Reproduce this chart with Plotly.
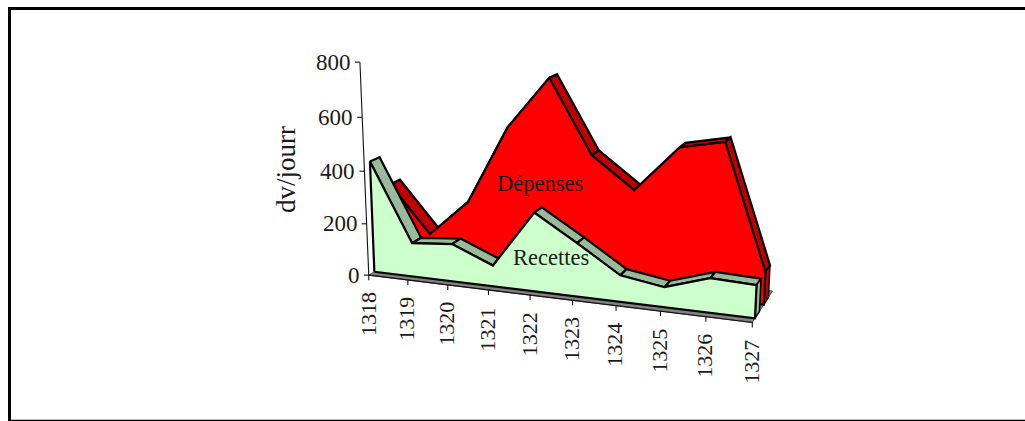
import numpy as np
import plotly.graph_objects as go

YEARS = ["1318", "1319", "1320", "1321", "1322", "1323", "1324", "1325", "1326", "1327"]
RECETTES = [427, 130, 144, 80, 296, 200, 99, 74, 126, 120]
DEPENSES = [304, 123, 267, 563, 755, 487, 372, 541, 574, 121]
Y_TICKS = [0, 200, 400, 600, 800]

# Perspective projection of the 3-D chart box: (category, value/100, depth) -> page pixel
PROJ = np.array([
    [34.87755, -3.211746, 62.10915, 368.7734],
    [1.948109, -26.98882, -8.251153, 275.1479],
    [-0.01028385, -0.005850458, 0.05924156, 1.0],
])
DEPTH = dict(floor_back=1.12, rec_front=.14, rec_back=.38, dep_front=.62, dep_back=.88)

C_REC, C_REC_TOP = "#CCFFCC", "#99BB99"
C_DEP, C_DEP_TOP = "#FF0000", "#C00000"
C_FLOOR = "#808080"
FONT = "Liberation Serif"
C_TEXT = "#1a1a1a"


def proj(t, value, depth):
    p = PROJ @ np.array([t, value / 100.0, depth, 1.0])
    return p[0] / p[2], p[1] / p[2]


fig = go.Figure()


def poly(points, fill, width=2.2, color="black"):
    xs, ys = zip(*[proj(*q) for q in points + points[:1]])
    fig.add_trace(go.Scatter(x=xs, y=ys, mode="lines", fill="toself", fillcolor=fill,
                             line=dict(color=color, width=width, simplify=False),
                             hoverinfo="skip", showlegend=False))


def segment(a, b, width=1.1):
    fig.add_trace(go.Scatter(x=[a[0], b[0]], y=[a[1], b[1]], mode="lines",
                             line=dict(color="#111111", width=width),
                             hoverinfo="skip", showlegend=False))


def area(values, front, back, face, top, side_width):
    n = len(values)
    for t in range(n - 1):
        poly([(t, values[t], front), (t + 1, values[t + 1], front),
              (t + 1, values[t + 1], back), (t, values[t], back)], top)
    poly([(n - 1, 0, front), (n - 1, values[-1], front),
          (n - 1, values[-1], back), (n - 1, 0, back)], top, width=side_width)
    poly([(0, 0, front)] + [(t, values[t], front) for t in range(n)] + [(n - 1, 0, front)], face)


last = len(YEARS) - 1
poly([(0, 0, 0), (last, 0, 0), (last, 0, DEPTH["floor_back"]), (0, 0, DEPTH["floor_back"])],
     C_FLOOR, width=0.8, color="#333333")
area(DEPENSES, DEPTH["dep_front"], DEPTH["dep_back"], C_DEP, C_DEP_TOP, 1.4)
area(RECETTES, DEPTH["rec_front"], DEPTH["rec_back"], C_REC, C_REC_TOP, 1.6)

# axes
segment(proj(0, 0, 0), proj(0, Y_TICKS[-1], 0))
segment(proj(0, 0, 0), proj(last, 0, 0))
for v in Y_TICKS:
    x, y = proj(0, v, 0)
    segment((x - 5, y), (x, y))
    fig.add_annotation(x=x - 7, y=y, text=str(v), showarrow=False, xanchor="right", yanchor="middle",
                       font=dict(family=FONT, size=23, color=C_TEXT))
for t, label in enumerate(YEARS):
    x, y = proj(t, 0, 0)
    segment((x, y), (x, y + 5))
    fig.add_annotation(x=x - 1, y=y + 15, text=label, textangle=-90, showarrow=False,
                       xanchor="center", yanchor="top",
                       font=dict(family=FONT, size=22, color=C_TEXT))

fig.add_annotation(x=286, y=170, text="dv/jourr", textangle=-90, showarrow=False,
                   font=dict(family=FONT, size=27, color=C_TEXT))
fig.add_annotation(x=540, y=183, text="Dépenses", showarrow=False,
                   font=dict(family=FONT, size=22.5, color=C_TEXT))
fig.add_annotation(x=551, y=257, text="Recettes", showarrow=False,
                   font=dict(family=FONT, size=22.5, color=C_TEXT))

frame = dict(type="line", line=dict(color="black", width=3), layer="above")
fig.add_shape(x0=9.5, x1=9.5, y0=7, y1=421, **frame)
fig.add_shape(x0=8, x1=1025, y0=8.5, y1=8.5, **frame)
fig.add_shape(x0=8, x1=1025, y0=420.5, y1=420.5,
              type="line", line=dict(color="black", width=1.5), layer="above")

fig.update_layout(width=1025, height=421, margin=dict(l=0, r=0, t=0, b=0),
                  paper_bgcolor="white", plot_bgcolor="white",
                  xaxis=dict(range=[0, 1025], visible=False, fixedrange=True),
                  yaxis=dict(range=[421, 0], visible=False, fixedrange=True))
fig.write_html("out.html", post_script="document.body.style.margin='0';",
               config=dict(displayModeBar=False))
